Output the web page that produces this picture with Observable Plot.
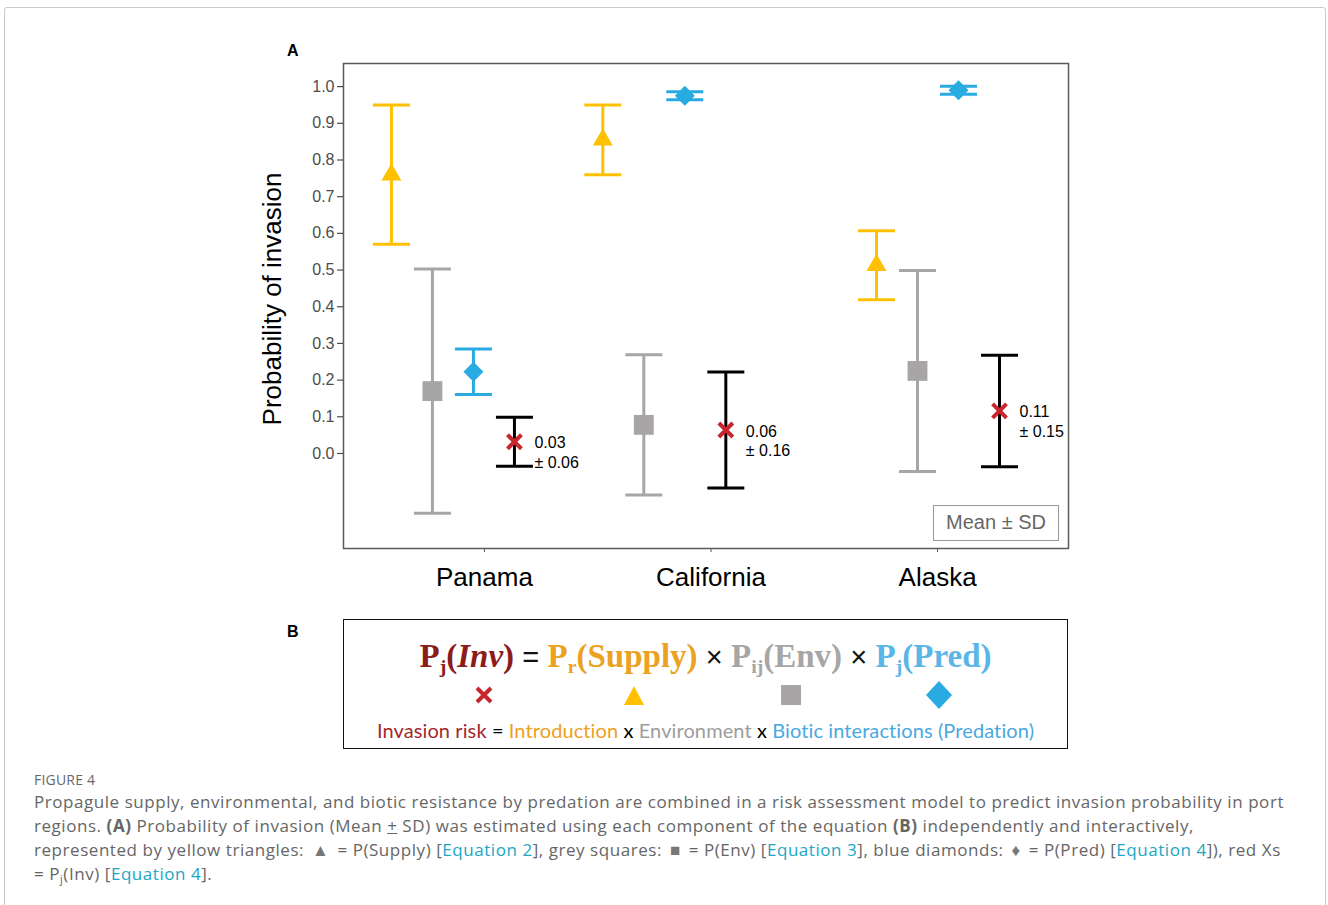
<!DOCTYPE html>
<html>
<head>
<meta charset="utf-8">
<script src="https://cdn.jsdelivr.net/npm/d3@7"></script>
<script src="https://cdn.jsdelivr.net/npm/@observablehq/plot@0.6"></script>
<style>
  html, body { margin: 0; padding: 0; background: #fff; }
  body { width: 1328px; height: 905px; position: relative; overflow: hidden; font-family: "Liberation Sans", Arial, sans-serif; }
  #outer { position: absolute; left: 4px; top: 7px; width: 1322px; height: 930px; border: 1.5px solid #c9c9c9; border-radius: 3px; box-sizing: border-box; }
  #chart { position: absolute; left: 0; top: 0; }
  .panel-letter { position: absolute; font-weight: bold; font-size: 16px; color: #000; }
  #meanbox { position: absolute; left: 933px; top: 505px; width: 126px; height: 36px; box-sizing: border-box; border: 1.5px solid #9a9a9a; background: #fff; color: #666; font-size: 20px; line-height: 33px; text-align: center; }
  #panelB { position: absolute; left: 343px; top: 619px; width: 725px; height: 130px; box-sizing: border-box; border: 1.5px solid #111; }
  #panelB .eq { position: absolute; left: 0; width: 100%; top: 14px; text-align: center; font-family: "Liberation Serif", "DejaVu Serif", serif; font-weight: bold; font-size: 33px; line-height: 44px; white-space: nowrap; }
  #panelB .eq sub { font-size: 0.6em; vertical-align: -0.3em; line-height: 0; }
  #panelB .eq .op { font-family: "Liberation Sans", Arial, sans-serif; font-weight: normal; color: #111; font-size: 29px; }
  #panelB svg { position: absolute; left: 0; top: 55px; }
  #panelB .words { position: absolute; left: 0; width: 100%; top: 97px; text-align: center; font-family: Lato, "Open Sans", sans-serif; font-size: 20px; line-height: 26px; white-space: nowrap; letter-spacing: 0.1px; }
  #caption-head { position: absolute; left: 34px; top: 770px; font-family: "Open Sans", Lato, sans-serif; font-size: 14px; color: #666; letter-spacing: 0.2px; }
  #caption { position: absolute; left: 34px; top: 790px; font-family: "Open Sans", Lato, sans-serif; font-size: 17px; line-height: 24px; color: #666; white-space: nowrap; letter-spacing: 0.55px; }
  #caption .lnk { color: #1aa6c4; }
  #caption .sym { color: #777; font-size: 17px; margin: 0 3px; }
  #caption sub { font-size: 0.65em; vertical-align: -0.3em; line-height: 0; }
</style>
</head>
<body>
<div id="outer"></div>
<div id="chart"></div>
<div class="panel-letter" style="left:287px; top:42px;">A</div>
<div class="panel-letter" style="left:287px; top:623px;">B</div>
<div id="meanbox">Mean ± SD</div>

<div id="panelB">
  <div class="eq"><span style="color:#8B1C1C">P<sub>j</sub>(<i>Inv</i>)</span> <span class="op">=</span> <span style="color:#EBA122">P<sub>r</sub>(Supply)</span> <span class="op">×</span> <span style="color:#A6A6A6">P<sub>ij</sub>(Env)</span> <span class="op">×</span> <span style="color:#5AB6E6">P<sub>j</sub>(Pred)</span></div>
  <svg width="725" height="40" viewBox="0 0 725 40">
    <path d="M133,13 L147,27 M147,13 L133,27" stroke="#C8262D" stroke-width="4" fill="none"/>
    <path d="M280,30 L300,30 L290,11 Z" fill="#FFC000"/>
    <rect x="437" y="10" width="20" height="20" fill="#A7A5A5"/>
    <path d="M595,6 L608,20 L595,34 L582,20 Z" fill="#29ABE2"/>
  </svg>
  <div class="words"><span style="color:#A3292B">Invasion risk</span> = <span style="color:#EFA020">Introduction</span> x <span style="color:#9d9d9d">Environment</span> x <span style="color:#4AA8E0">Biotic interactions (Predation)</span></div>
</div>

<div id="caption-head">FIGURE 4</div>
<div id="caption">Propagule supply, environmental, and biotic resistance by predation are combined in a risk assessment model to predict invasion probability in port<br>regions. <b>(A)</b> Probability of invasion (Mean <u>+</u> SD) was estimated using each component of the equation <b>(B)</b> independently and interactively,<br>represented by yellow triangles: <span class="sym">▲</span> = P(Supply) [<span class="lnk">Equation 2</span>], grey squares: <span class="sym">■</span> = P(Env) [<span class="lnk">Equation 3</span>], blue diamonds: <span class="sym">♦</span> = P(Pred) [<span class="lnk">Equation 4</span>]), red Xs<br>= P<sub>j</sub>(Inv) [<span class="lnk">Equation 4</span>].</div>

<script>
// ---------- data ----------
const regions = ["Panama", "California", "Alaska"];
const supplyMean = [0.760, 0.855, 0.513];
const supplySD   = [0.190, 0.095, 0.094];
const envMean    = [0.170, 0.078, 0.225];
const envSD      = [0.333, 0.191, 0.274];
const predMean   = [0.223, 0.975, 0.990];
const predSD     = [0.062, 0.011, 0.011];
const invMean    = [0.032, 0.064, 0.116];
const invSD      = [0.067, 0.158, 0.152];
const invMeanLabel = ["0.03", "0.06", "0.11"];
const invSDLabel   = ["0.06", "0.16", "0.15"];
const yTickValues  = [0, 0.1, 0.2, 0.3, 0.4, 0.5, 0.6, 0.7, 0.8, 0.9, 1.0];

// ---------- layout / style ----------
const groupNudge = [-0.117, -0.184, 0.024];   // horizontal nudge of each region's cluster
const seriesStep = 0.181;                      // spacing between series within a cluster
const series = [
  {key: "supply", mean: supplyMean, sd: supplySD, color: "#FFC000", bar: "#FFC000", symbol: "triangle", r: 7.4},
  {key: "env",    mean: envMean,    sd: envSD,    color: "#A7A5A5", bar: "#A7A5A5", symbol: "square",   r: 11.2},
  {key: "pred",   mean: predMean,   sd: predSD,   color: "#29ABE2", bar: "#29ABE2", symbol: "diamond2", r: 9.0},
  {key: "inv",    mean: invMean,    sd: invSD,    color: "#C8262D", bar: "#000000", symbol: "times",    r: 6.4}
];

const rows = [];
series.forEach((s, k) => {
  regions.forEach((reg, i) => {
    rows.push({
      series: s.key, region: reg,
      x: (i + 1) + groupNudge[i] + (k - 1.5) * seriesStep,
      mean: s.mean[i], lo: s.mean[i] - s.sd[i], hi: s.mean[i] + s.sd[i],
      color: s.color, bar: s.bar, symbol: s.symbol, r: s.r
    });
  });
});
const invRows = rows.filter(d => d.series === "inv").map((d, i) => ({...d, label: invMeanLabel[i] + "\n± " + invSDLabel[i]}));

const capSymbol = {draw(ctx) { ctx.moveTo(-18.5, 0); ctx.lineTo(18.5, 0); }};

const markerMarks = series.map(s => Plot.dot(rows.filter(d => d.series === s.key), {
  x: "x", y: "mean", symbol: s.symbol, r: s.r,
  fill: s.symbol === "times" ? "none" : s.color,
  stroke: s.symbol === "times" ? s.color : "none",
  strokeWidth: s.symbol === "times" ? 4 : 0
}));

const chart = Plot.plot({
  width: 1328,
  height: 600,
  marginLeft: 343,
  marginRight: 260,
  marginTop: 63,
  marginBottom: 52,
  style: {background: "transparent", fontFamily: "'Liberation Sans', Arial, sans-serif", overflow: "visible"},
  x: {domain: [0.4, 3.6]},
  y: {domain: [-0.259, 1.063]},
  marks: [
    Plot.axisY({ticks: yTickValues, tickFormat: d3.format(".1f"), fontSize: 16, color: "#4d4d4d", tickSize: 6, tickPadding: 3, label: null, strokeWidth: 1.2}),
    Plot.axisX({ticks: [1, 2, 3], tickFormat: d => regions[d - 1], fontSize: 26, color: "#000", tickSize: 4, tickPadding: 15, label: null, dx: 5, stroke: "#555"}),
    Plot.ruleX(rows, {x: "x", y1: "lo", y2: "hi", stroke: "bar", strokeWidth: 3}),
    Plot.dot(rows, {x: "x", y: "lo", symbol: capSymbol, stroke: "bar", fill: "none", strokeWidth: 3}),
    Plot.dot(rows, {x: "x", y: "hi", symbol: capSymbol, stroke: "bar", fill: "none", strokeWidth: 3}),
    ...markerMarks,
    Plot.text(invRows, {x: "x", y: "mean", text: "label", textAnchor: "start", dx: 20, dy: 10, fontSize: 16, lineHeight: 1.22, fill: "#000"}),
    Plot.text(["Probability of invasion"], {frameAnchor: "left", text: d => d, textAnchor: "middle", lineAnchor: "middle", rotate: -90, dx: -71, dy: -7, fontSize: 26, fill: "#000"}),
    Plot.frame({stroke: "#5a5a5a", strokeWidth: 1.5})
  ]
});
document.getElementById("chart").appendChild(chart);
</script>
</body>
</html>
